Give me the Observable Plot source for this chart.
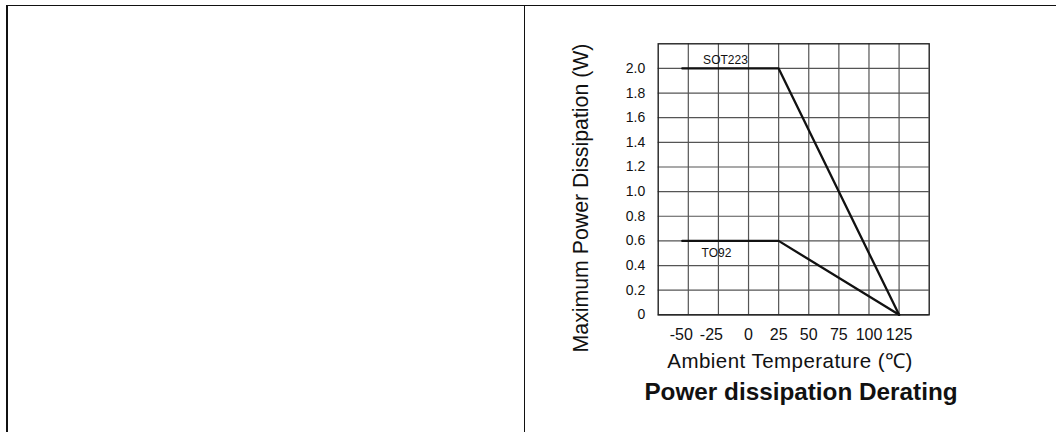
<!DOCTYPE html>
<html><head><meta charset="utf-8">
<script src="https://cdn.jsdelivr.net/npm/d3@7"></script>
<script src="https://cdn.jsdelivr.net/npm/@observablehq/plot@0.6"></script>
<style>
body{margin:0;background:#fff;width:1056px;height:432px;overflow:hidden;position:relative;font-family:"Liberation Sans",Arial,sans-serif;}
.rule{position:absolute;background:#111;}
#chart{position:absolute;left:560px;top:30px;}
.lbl{position:absolute;white-space:nowrap;color:#111;transform:translate(-50%,-50%);}
#ylabel{font-size:21.3px;left:581px;top:198px;transform:translate(-50%,-50%) rotate(-90deg);}
#xlabel{font-size:20.5px;letter-spacing:0.45px;left:790px;top:360px;}
#title{font-size:24.3px;font-weight:bold;left:801px;top:392px;}
</style></head><body>
<div class="rule" style="left:6px;top:4.5px;width:1050px;height:1.5px"></div>
<div class="rule" style="left:6px;top:4.5px;width:1.5px;height:428px"></div>
<div class="rule" style="left:523.5px;top:4.5px;width:1.5px;height:428px"></div>
<div id="chart"></div>
<div id="ylabel" class="lbl">Maximum Power Dissipation (W)</div>
<div id="xlabel" class="lbl">Ambient Temperature (℃)</div>
<div id="title" class="lbl">Power dissipation Derating</div>
<script>
const temperature = [-55, 25, 125];
const sot223Power = [2.0, 2.0, 0];
const to92Power = [0.6, 0.6, 0];
const seriesNames = ["SOT223", "TO92"];
const xTicks = [-50, -25, 0, 25, 50, 75, 100, 125];
const yTicks = [0, 0.2, 0.4, 0.6, 0.8, 1.0, 1.2, 1.4, 1.6, 1.8, 2.0];
const xDomain = [-75, 150];
const yDomain = [0, 2.2];

const sotRows = temperature.map((t, i) => ({t, p: sot223Power[i]}));
const toRows = temperature.map((t, i) => ({t, p: to92Power[i]}));
const labelRows = [
  {name: seriesNames[0], t: (temperature[0] + temperature[1]) / 2, p: sot223Power[0]},
  {name: seriesNames[1], t: (temperature[0] + temperature[1]) / 2, p: to92Power[0]}
];
const negTicks = xTicks.filter(d => d < 0);
const posTicks = xTicks.filter(d => d >= 0);

const chart = Plot.plot({
  width: 420,
  height: 345,
  marginLeft: 97.7,
  marginRight: 51.3,
  marginTop: 13.3,
  marginBottom: 60.7,
  style: {fontFamily: '"Liberation Sans", Arial, sans-serif', color: "#111", background: "transparent"},
  x: {domain: xDomain},
  y: {domain: yDomain},
  marks: [
    Plot.gridX(xTicks, {stroke: "#555", strokeOpacity: 1, strokeWidth: 1.2}),
    Plot.gridY(yTicks, {stroke: "#555", strokeOpacity: 1, strokeWidth: 1.2}),
    Plot.frame({stroke: "#222", strokeWidth: 1.4}),
    Plot.axisX(negTicks, {tickSize: 0, tickPadding: 14, fontSize: 16, dx: -7, tickFormat: d => String(d), label: null}),
    Plot.axisX(posTicks, {tickSize: 0, tickPadding: 14, fontSize: 16, tickFormat: d => String(d), label: null}),
    Plot.axisY(yTicks, {tickSize: 0, tickPadding: 13, fontSize: 14, tickFormat: d => d === 0 ? "0" : d.toFixed(1), label: null}),
    Plot.line(sotRows, {x: "t", y: "p", stroke: "#111", strokeWidth: 2.3}),
    Plot.line(toRows, {x: "t", y: "p", stroke: "#111", strokeWidth: 2.3}),
    Plot.text(labelRows.slice(0, 1), {x: "t", y: "p", text: "name", dx: -5, dy: -8, fontSize: 12, fill: "#111"}),
    Plot.text(labelRows.slice(1), {x: "t", y: "p", text: "name", dx: -14, dy: 12.5, fontSize: 12, fill: "#111"})
  ]
});
document.getElementById("chart").appendChild(chart);
</script>
</body></html>
